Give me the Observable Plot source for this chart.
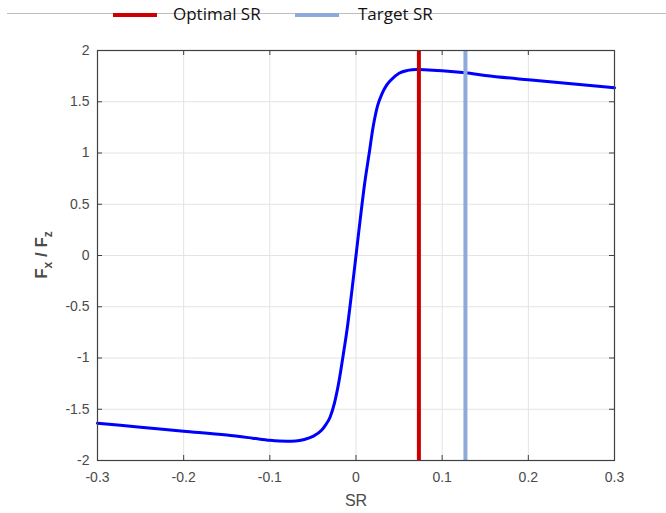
<!DOCTYPE html>
<html>
<head>
<meta charset="utf-8">
<script src="https://cdn.jsdelivr.net/npm/d3@7"></script>
<script src="https://cdn.jsdelivr.net/npm/@observablehq/plot@0.6"></script>
<style>
  html, body { margin: 0; padding: 0; background: #fff; }
  #wrap { width: 666px; height: 513px; position: relative; overflow: hidden; }
  #legend { position: relative; height: 30px; width: 666px; font-family: "Open Sans", sans-serif; font-size: 17px; color: #111; }
  #legend .rule { position: absolute; left: 7px; right: 0; top: 13px; height: 1px; background: #bfbfbf; }
  #legend .sw { position: absolute; top: 13px; width: 44px; height: 4px; }
  #legend .lab { position: absolute; top: 3px; line-height: 22px; background: transparent; }
</style>
</head>
<body>
<div id="wrap">
  <div id="legend"></div>
  <div id="chart"></div>
</div>
<script>
// ---- data ----
const srValues = [-0.30, -0.25, -0.20, -0.15, -0.12, -0.10, -0.08, -0.07, -0.06, -0.05, -0.04, -0.035, -0.03, -0.025, -0.02, -0.015, -0.01, -0.005, 0,
                  0.005, 0.01, 0.015, 0.02, 0.025, 0.03, 0.035, 0.04, 0.05, 0.06, 0.07, 0.08, 0.10, 0.127, 0.15, 0.20, 0.25, 0.30];
const fxFzValues = [-1.636, -1.675, -1.714, -1.752, -1.782, -1.803, -1.812, -1.810, -1.795, -1.765, -1.705, -1.65, -1.575, -1.44, -1.24, -0.98, -0.70, -0.36, 0,
                    0.36, 0.70, 0.98, 1.26, 1.46, 1.575, 1.655, 1.707, 1.778, 1.806, 1.815, 1.813, 1.803, 1.782, 1.757, 1.714, 1.675, 1.636];
const optimalSR = 0.073;
const targetSR = 0.127;
const xTicks = [-0.3, -0.2, -0.1, 0, 0.1, 0.2, 0.3];
const yTicks = [-2, -1.5, -1, -0.5, 0, 0.5, 1, 1.5, 2];
const legendItems = [
  {label: "Optimal SR", color: "#cc0000", swatchX: 113, textX: 173},
  {label: "Target SR", color: "#8eaadb", swatchX: 295, textX: 358}
];

const curve = srValues.map((s, i) => ({sr: s, f: fxFzValues[i]}));

// ---- legend (HTML) ----
const leg = document.getElementById("legend");
leg.innerHTML = `<div class="rule"></div>` + legendItems.map(d =>
  `<div class="sw" style="left:${d.swatchX}px;background:${d.color}"></div>` +
  `<div class="lab" style="left:${d.textX}px">${d.label}</div>`).join("");

const axisColor = "#404040";
const tx = 0.0058, ty = 0.049; // inward tick lengths in data units (~5px)

const plot = Plot.plot({
  width: 666,
  height: 483,
  marginTop: 20,
  marginBottom: 53,
  marginLeft: 97,
  marginRight: 52,
  style: {fontFamily: "'Liberation Sans', Arial, sans-serif", fontSize: "14px", color: axisColor, background: "#fff"},
  x: {domain: [-0.3, 0.3], ticks: xTicks, tickFormat: d => String(d), label: null},
  y: {domain: [-2, 2], ticks: yTicks, tickFormat: d => String(d), label: null},
  marks: [
    Plot.gridX(xTicks, {stroke: "#e3e3e3", strokeOpacity: 1}),
    Plot.gridY(yTicks, {stroke: "#e3e3e3", strokeOpacity: 1}),
    Plot.axisX(xTicks, {tickSize: 0, tickPadding: 12, tickFormat: d => String(d), fill: "#4a4a4a", fontSize: 14}),
    Plot.axisY(yTicks, {tickSize: 0, tickPadding: 8, tickFormat: d => String(d), fill: "#4a4a4a", fontSize: 14}),
    // inward ticks on all four sides
    Plot.ruleX(xTicks, {x: d => d, y1: -2, y2: -2 + ty, stroke: axisColor}),
    Plot.ruleX(xTicks, {x: d => d, y1: 2, y2: 2 - ty, stroke: axisColor}),
    Plot.ruleY(yTicks, {y: d => d, x1: -0.3, x2: -0.3 + tx, stroke: axisColor}),
    Plot.ruleY(yTicks, {y: d => d, x1: 0.3, x2: 0.3 - tx, stroke: axisColor}),
    Plot.line(curve, {x: "sr", y: "f", stroke: "#0000ff", strokeWidth: 3, curve: "monotone-x"}),
    Plot.ruleX([optimalSR], {stroke: legendItems[0].color, strokeWidth: 4}),
    Plot.ruleX([targetSR], {stroke: legendItems[1].color, strokeWidth: 4}),
    Plot.frame({stroke: axisColor, strokeWidth: 1.2}),
    Plot.text(["SR"], {frameAnchor: "bottom", dy: 40, lineAnchor: "middle", fontSize: 16, fill: "#4a4a4a"})
  ]
});
document.getElementById("chart").appendChild(plot);

// y-axis label with subscripts
const yScale = plot.scale("y");
const yMid = (yScale.range[0] + yScale.range[1]) / 2;
const svg = d3.select(plot);
const t = svg.append("text")
  .attr("transform", `translate(47,${yMid}) rotate(-90)`)
  .attr("text-anchor", "middle")
  .attr("fill", "#4a4a4a")
  .attr("font-family", "'Liberation Sans', Arial, sans-serif")
  .attr("font-size", 17)
  .attr("font-weight", "bold");
t.append("tspan").text("F");
t.append("tspan").attr("font-size", 12).attr("dy", 5).text("x");
t.append("tspan").attr("dy", -5).text(" / F");
t.append("tspan").attr("font-size", 12).attr("dy", 5).text("z");
</script>
</body>
</html>
